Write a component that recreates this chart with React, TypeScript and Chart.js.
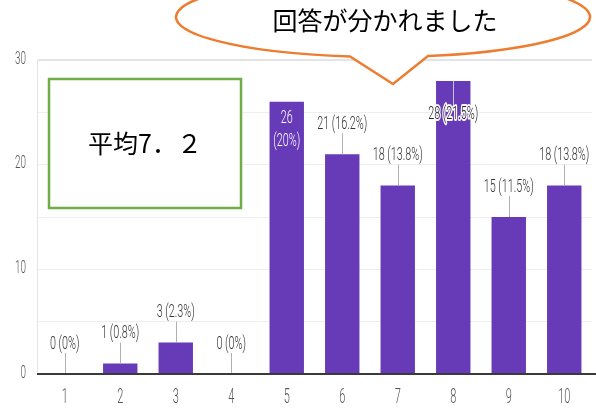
import { useEffect, useRef } from 'react';
import { Chart, registerables } from 'chart.js';

Chart.register(...registerables);

const categories = ['1', '2', '3', '4', '5', '6', '7', '8', '9', '10'];
const counts = [0, 1, 3, 0, 26, 21, 18, 28, 15, 18];
const percents = ['0%', '0.8%', '2.3%', '0%', '20%', '16.2%', '13.8%', '21.5%', '11.5%', '13.8%'];
const yTickLabels = [0, 10, 20, 30];
const labelModes = ['above', 'above', 'above', 'above', 'inside', 'above', 'above', 'halo', 'above', 'above'];
const bubbleText = '回答が分かれました';
const noteText = '平均7．２';

const LATIN = "Roboto, 'Liberation Sans', sans-serif";
const CJK = "'Noto Sans CJK JP', 'Noto Sans', sans-serif";

function squeezed(
  ctx: CanvasRenderingContext2D,
  text: string,
  x: number,
  y: number,
  size: number,
  sx: number,
  color: string,
  align: CanvasTextAlign = 'center',
  halo = false
) {
  ctx.save();
  ctx.font = `300 ${size}px ${LATIN}`;
  ctx.textAlign = align;
  ctx.textBaseline = 'middle';
  ctx.translate(x, y);
  ctx.scale(sx, 1);
  if (halo) {
    ctx.strokeStyle = 'rgba(255,255,255,0.95)';
    ctx.lineWidth = 4;
    ctx.lineJoin = 'round';
    ctx.strokeText(text, 0, 0);
  }
  ctx.fillStyle = color;
  ctx.fillText(text, 0, 0);
  ctx.restore();
}

const overlayPlugin = {
  id: 'overlay',
  afterDatasetsDraw(chart: any) {
    const ctx: CanvasRenderingContext2D = chart.ctx;
    const meta = chart.getDatasetMeta(0);
    meta.data.forEach((bar: any, i: number) => {
      const x = bar.x;
      const top = bar.y;
      const mode = labelModes[i];
      const full = `${counts[i]} (${percents[i]})`;
      ctx.save();
      if (mode === 'above') {
        ctx.strokeStyle = '#b0b0b0';
        ctx.lineWidth = 1;
        ctx.beginPath();
        ctx.moveTo(Math.round(x) + 0.5, top - 21);
        ctx.lineTo(Math.round(x) + 0.5, top);
        ctx.stroke();
        squeezed(ctx, full, x, top - 30, 18, 0.6, '#333333');
      } else if (mode === 'inside') {
        squeezed(ctx, String(counts[i]), x, top + 17, 18, 0.6, '#ffffff');
        squeezed(ctx, `(${percents[i]})`, x, top + 40, 18, 0.6, '#ffffff');
      } else {
        ctx.strokeStyle = '#c9bce6';
        ctx.lineWidth = 1;
        ctx.beginPath();
        ctx.moveTo(Math.round(x) + 0.5, top);
        ctx.lineTo(Math.round(x) + 0.5, top + 26);
        ctx.stroke();
        squeezed(ctx, full, x, top + 34, 18, 0.6, '#222222', 'center', true);
      }
      ctx.restore();
    });
  },
  afterDraw(chart: any) {
    const ctx: CanvasRenderingContext2D = chart.ctx;
    const xs = chart.scales.x;
    const ys = chart.scales.y;
    const area = chart.chartArea;

    // bottom axis line
    ctx.save();
    ctx.strokeStyle = '#3a3a3a';
    ctx.lineWidth = 2;
    ctx.beginPath();
    ctx.moveTo(area.left, area.bottom);
    ctx.lineTo(chart.width, area.bottom);
    ctx.stroke();
    ctx.restore();

    // tick labels
    categories.forEach((c, i) => {
      squeezed(ctx, c, xs.getPixelForValue(i), 398, 20, 0.55, '#555555');
    });
    yTickLabels.forEach((v) => {
      squeezed(ctx, String(v), 26, ys.getPixelForValue(v) - 1, 18, 0.55, '#555555', 'right');
    });

    // green note box
    ctx.save();
    ctx.fillStyle = '#ffffff';
    ctx.fillRect(49, 79, 192, 129);
    ctx.strokeStyle = '#70AD47';
    ctx.lineWidth = 2.5;
    ctx.strokeRect(49, 79, 192, 129);
    ctx.font = `25px ${CJK}`;
    ctx.fillStyle = '#000000';
    ctx.textAlign = 'center';
    ctx.textBaseline = 'middle';
    ctx.fillText(noteText, 145, 143);
    ctx.restore();

    // speech bubble
    const cx = 383, cy = 17, rx = 207, ry = 40;
    const tip = { x: 393, y: 84 };
    const a0 = Math.acos((350 - cx) / rx);
    const a1 = Math.acos((428 - cx) / rx);
    ctx.save();
    ctx.beginPath();
    ctx.ellipse(cx, cy, rx, ry, 0, a0, a1, false);
    ctx.lineTo(tip.x, tip.y);
    ctx.closePath();
    ctx.fillStyle = '#ffffff';
    ctx.fill();
    ctx.strokeStyle = '#ED7D31';
    ctx.lineWidth = 2.5;
    ctx.lineJoin = 'miter';
    ctx.stroke();
    ctx.font = `25px ${CJK}`;
    ctx.fillStyle = '#000000';
    ctx.textAlign = 'center';
    ctx.textBaseline = 'middle';
    ctx.fillText(bubbleText, 385, 20);
    ctx.restore();
  },
};

export default function App() {
  const ref = useRef<HTMLCanvasElement | null>(null);

  useEffect(() => {
    document.body.style.margin = '0';
    if (!ref.current) return;
    const chart = new Chart(ref.current, {
      type: 'bar',
      data: {
        labels: categories,
        datasets: [
          {
            data: counts,
            backgroundColor: '#673AB7',
            borderWidth: 0,
            barPercentage: 0.62,
            categoryPercentage: 1,
          },
        ],
      },
      options: {
        responsive: false,
        animation: false,
        devicePixelRatio: 1,
        layout: { padding: { top: 60, right: 4, left: 0, bottom: 0 } },
        plugins: {
          legend: { display: false },
          tooltip: { enabled: false },
        },
        scales: {
          x: {
            grid: { display: false },
            border: { display: false },
            ticks: { display: false },
            afterFit: (s: any) => {
              s.height = 36;
            },
          },
          y: {
            min: 0,
            max: 30,
            ticks: { display: false, stepSize: 5 },
            grid: {
              color: (c: any) => (c.tick && c.tick.value === 30 ? '#e4e4e4' : '#eeeeee'),
              lineWidth: (c: any) => (c.tick && c.tick.value === 30 ? 2 : 1),
              drawTicks: false,
            },
            border: { display: true, color: '#e4e4e4' },
            afterFit: (s: any) => {
              s.width = 37;
            },
          },
        },
      },
      plugins: [overlayPlugin],
    });
    return () => chart.destroy();
  }, []);

  return (
    <div style={{ width: 596, height: 410 }}>
      <canvas ref={ref} width={596} height={410} />
    </div>
  );
}
